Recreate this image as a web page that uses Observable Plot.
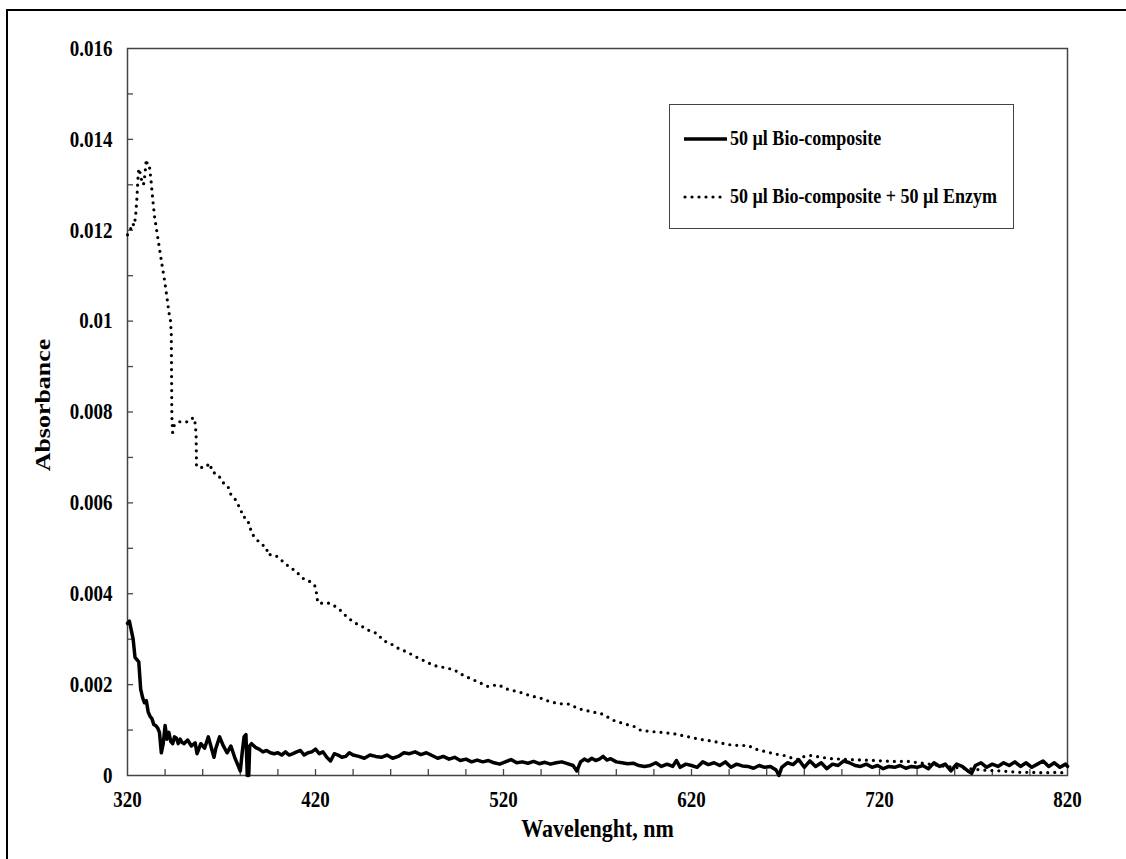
<!DOCTYPE html>
<html>
<head>
<meta charset="utf-8">
<script src="https://cdn.jsdelivr.net/npm/d3@7"></script>
<script src="https://cdn.jsdelivr.net/npm/@observablehq/plot@0.6"></script>
<style>
  html, body { margin: 0; padding: 0; background: #fff; overflow: hidden; }
  #wrap { position: relative; width: 1126px; height: 859px; }
  #outer { position: absolute; left: 6px; top: 9px; width: 1200px; height: 900px;
           border-top: 2px solid #000; border-left: 2px solid #000; pointer-events: none; }
  #legend { position: absolute; left: 669px; top: 104px; width: 345px; height: 125px;
            border: 1.5px solid #444; box-sizing: border-box; background: #fff;
            font-family: "Liberation Serif", "Times New Roman", serif; font-weight: bold; font-size: 18px; color: #000; }
  .item { position: absolute; left: 13px; display: flex; align-items: center; white-space: nowrap; }
  .item svg { margin-right: 2px; }
  .item span { display: inline-block; transform: scaleY(1.2); transform-origin: 0 55%; }
</style>
</head>
<body>
<div id="wrap">
  <div id="chart"></div>
  <div id="outer"></div>
  <div id="legend">
    <div class="item" style="top:23px"><svg width="45" height="14"><line x1="1" y1="7" x2="44" y2="7" stroke="#000" stroke-width="3.4"/></svg><span id="lab0"></span></div>
    <div class="item" style="top:81px"><svg width="45" height="14"><line x1="2" y1="7" x2="44" y2="7" stroke="#000" stroke-width="3.2" stroke-dasharray="0,7" stroke-linecap="round"/></svg><span id="lab1"></span></div>
  </div>
</div>
<script>
// ---- data ----
const seriesNames = ["50 µl Bio-composite", "50 µl Bio-composite + 50 µl Enzym"];

const xTickLabels = ["320", "420", "520", "620", "720", "820"];
const xTickValues = [320, 420, 520, 620, 720, 820];
const yTickLabels = ["0", "0.002", "0.004", "0.006", "0.008", "0.01", "0.012", "0.014", "0.016"];
const yTickValues = [0, 0.002, 0.004, 0.006, 0.008, 0.010, 0.012, 0.014, 0.016];
const xMinorTicks = [340, 360, 380, 400, 420, 440, 460, 480, 500, 520, 540, 560, 580, 600, 620, 640, 660, 680, 700, 720, 740, 760, 780, 800];
const yMinorTicks = [0.001, 0.002, 0.003, 0.004, 0.005, 0.006, 0.007, 0.008, 0.009, 0.010, 0.011, 0.012, 0.013, 0.014, 0.015];

// Series 1: 50 µl Bio-composite (solid)
const bioWavelength = [320,321,322,323,324,325,326,327,328,329,330,331,332,333,334,335,336,337,338,339,340,341,342,343,344,345,346,347,348,349,350,352,354,356,357,359,361,363,364,366,367,369,371,373,375,377,379,380,381,382,383,383.7,384.5,385,386,388,390,392,394,396,398,400,402,404,406,408,410,412,414,416,418,420,422,424,426,428,430,432,434,436,438,440,443,446,449,452,455,458,461,464,467,470,473,476,479,482,485,488,491,494,497,500,503,506,509,512,515,518,521,524,527,530,533,536,539,542,545,548,551,554,557,559,561,563,565,567,569,571,573,575,577,580,583,586,589,592,595,598,601,604,607,610,612,614,617,620,623,626,629,632,635,638,641,644,647,650,653,656,659,662,665,666.5,668,671,674,677,680,683,686,689,692,695,698,701,704,707,710,713,716,719,722,725,728,731,734,737,740,743,746,749,752,755,758,761,764,767,769,771,774,777,780,783,786,789,792,795,798,801,804,807,810,813,816,819,820];
const bioAbsorbance = [0.00335,0.0034,0.0032,0.0030,0.0026,0.00255,0.0025,0.0019,0.00172,0.0016,0.00165,0.0014,0.0013,0.00125,0.00112,0.0011,0.00105,0.00095,0.0005,0.0007,0.0011,0.0008,0.00095,0.00075,0.0007,0.00085,0.00082,0.0007,0.0008,0.00073,0.0007,0.00078,0.00065,0.00072,0.00048,0.0007,0.0006,0.00085,0.0007,0.0004,0.0006,0.00085,0.00065,0.0005,0.00065,0.0004,0.0002,0.0001,0.0005,0.00085,0.0009,0.0,0.0,0.00065,0.0007,0.00062,0.00058,0.00052,0.00055,0.0005,0.00048,0.0005,0.00045,0.00052,0.00045,0.00048,0.00052,0.00055,0.00045,0.0005,0.00052,0.00058,0.00048,0.00052,0.0004,0.00032,0.00048,0.00045,0.0004,0.00042,0.0005,0.00045,0.00042,0.00038,0.00045,0.00042,0.0004,0.00045,0.00038,0.00042,0.0005,0.00048,0.00052,0.00046,0.0005,0.00044,0.00038,0.00042,0.00036,0.0004,0.00033,0.00036,0.0003,0.00034,0.0003,0.00033,0.00028,0.00025,0.0003,0.00035,0.00028,0.0003,0.00027,0.00031,0.00026,0.00029,0.00025,0.00028,0.0003,0.00026,0.00022,0.0001,0.0003,0.00036,0.00032,0.00038,0.00033,0.00036,0.00042,0.00034,0.00037,0.0003,0.00028,0.00026,0.00027,0.00022,0.0002,0.00022,0.00028,0.0002,0.00025,0.0002,0.00033,0.00018,0.00025,0.00022,0.00018,0.0003,0.00024,0.00028,0.00022,0.0003,0.00018,0.00025,0.00021,0.0002,0.00016,0.00022,0.00018,0.0002,0.00012,0.0,0.00018,0.00028,0.00024,0.00035,0.00018,0.00032,0.0002,0.00028,0.00015,0.00025,0.00022,0.00032,0.00028,0.00022,0.0002,0.00025,0.00018,0.00022,0.00015,0.0002,0.00018,0.00022,0.00016,0.0002,0.00018,0.00022,0.00015,0.00028,0.0002,0.00025,0.0001,0.00025,0.0002,0.0001,0.00005,0.00022,0.00028,0.00018,0.00025,0.0002,0.00028,0.00022,0.0003,0.0002,0.00028,0.00018,0.00025,0.00032,0.0002,0.00028,0.00018,0.00025,0.0002];

// Series 2: 50 µl Bio-composite + 50 µl Enzym (dotted)
const enzWavelength = [320,321,322.7,323.5,324.3,325,325.5,326,326.5,327.5,328.5,329.2,330,330.8,331.7,332.5,333.5,334.4,335.7,337,338.3,339.7,341,342,342.9,343.3,343.6,344,344.8,346.6,349,352,355.1,356,356.5,356.7,358.9,361.5,363.7,365.3,366.9,368.5,370.6,373.3,374.8,377,379.1,380.2,381.2,383.4,385,386,388.2,390.8,394,394.5,397.7,400.4,403.1,405.2,406.8,409.5,411.6,414.3,416.9,419.6,420.6,421.2,423.8,426.5,429.7,432.4,436,440.3,444,448,453,456,460,464,469,474,478,483,488,493.6,498,502.6,507,511.7,517,522,529,534,540,545,550,555,560,565,572,578.8,584.1,589.4,593.2,598,603.8,610.7,615,619.8,624,628.9,634.2,639.5,645,650.2,653.3,657,660.8,665,669.3,674.6,677,680,683.7,689,694.3,700,705,711,717.2,722,726.3,735.3,745,755,765,775,785,793.9,800.8,808,815.2,820];
const enzAbsorbance = [0.0119,0.01195,0.01215,0.0121,0.0123,0.0127,0.0131,0.01336,0.0133,0.0131,0.013,0.0132,0.01356,0.0134,0.0134,0.0131,0.01265,0.0123,0.01195,0.0116,0.01125,0.0109,0.01052,0.0102,0.0100,0.0097,0.0079,0.00755,0.0077,0.00777,0.0078,0.00778,0.00788,0.00775,0.0075,0.0068,0.00678,0.00678,0.00687,0.00667,0.00665,0.0066,0.00645,0.00638,0.0062,0.0061,0.00594,0.00588,0.0057,0.00566,0.0055,0.00533,0.00522,0.0051,0.00502,0.00486,0.00486,0.0048,0.00469,0.00462,0.00456,0.00451,0.0044,0.00431,0.00427,0.00418,0.004,0.0038,0.00379,0.0038,0.00374,0.00367,0.00352,0.00337,0.0033,0.0032,0.00312,0.00297,0.0029,0.0028,0.00271,0.0026,0.00252,0.00242,0.00238,0.00233,0.00222,0.00213,0.00205,0.00196,0.002,0.0019,0.00183,0.00176,0.0017,0.00162,0.00158,0.00157,0.00147,0.00142,0.00136,0.00121,0.00114,0.00108,0.00099,0.00097,0.00095,0.00092,0.00088,0.00084,0.0008,0.00077,0.00073,0.00068,0.00066,0.00066,0.00059,0.00055,0.00051,0.00047,0.00044,0.00037,0.00035,0.00042,0.00044,0.0004,0.00037,0.00036,0.00035,0.00034,0.00033,0.00032,0.00031,0.00031,0.00026,0.0002,0.00016,0.00012,0.0001,0.00007,0.00007,0.00006,0.00007,0.00005];

const bio = bioWavelength.map((w, i) => ({w, a: bioAbsorbance[i]}));
const enz = enzWavelength.map((w, i) => ({w, a: enzAbsorbance[i]}));

document.getElementById("lab0").textContent = seriesNames[0];
document.getElementById("lab1").textContent = seriesNames[1];

const W = 1126, H = 859, mL = 127, mR = 59, mT = 48, mB = 84;
const pw = W - mL - mR, ph = H - mT - mB;
const font = '"Liberation Serif", "Times New Roman", serif';

const chart = Plot.plot({
  width: W, height: H,
  marginLeft: mL, marginRight: mR, marginTop: mT, marginBottom: mB,
  style: {fontFamily: font, fontWeight: "bold", fontSize: "19px", color: "#000", background: "transparent", overflow: "visible"},
  x: {domain: [320, 820]},
  y: {domain: [0, 0.016]},
  marks: [
    Plot.frame({stroke: "#444", strokeWidth: 1.5}),
    Plot.tickY(yMinorTicks, {y: d => d, insetRight: pw - 6, stroke: "#444", strokeWidth: 1.3}),
    Plot.tickX(xMinorTicks, {x: d => d, insetTop: ph - 6, stroke: "#444", strokeWidth: 1.3}),
    Plot.axisY(yTickValues, {tickSize: 0, tickPadding: 15, tickFormat: (d, i) => yTickLabels[i], label: null, fontSize: 19}),
    Plot.axisX(xTickValues, {tickSize: 0, tickPadding: 17, tickFormat: (d, i) => xTickLabels[i], label: null, fontSize: 19}),
    Plot.text(["Absorbance"], {frameAnchor: "left", textAnchor: "middle", dx: -85, dy: -7, rotate: -90, fontSize: 22, fontWeight: "bold"}),
    Plot.text(["Wavelenght, nm"], {frameAnchor: "bottom", dy: 60, fontSize: 22, fontWeight: "bold"}),
    Plot.line(enz, {x: "w", y: "a", stroke: "#000", strokeWidth: 3.2, strokeDasharray: "0,7", strokeLinecap: "round"}),
    Plot.line(bio, {x: "w", y: "a", stroke: "#000", strokeWidth: 3.5, strokeLinejoin: "round"})
  ]
});
document.getElementById("chart").appendChild(chart);

// Stretch glyphs vertically (the reference type is tall and narrow): wrap each text in a scaled group
const STRETCH = 1.18;
Array.from(chart.querySelectorAll("text")).forEach(t => {
  const parent = t.parentNode;
  const r = t.getBoundingClientRect();
  const ctm = parent.getScreenCTM();
  if (!ctm || r.width === 0) return;
  const p = new DOMPoint(r.x + r.width / 2, r.y + r.height / 2).matrixTransform(ctm.inverse());
  const g = document.createElementNS("http://www.w3.org/2000/svg", "g");
  g.setAttribute("transform", `translate(${p.x},${p.y}) scale(1,${STRETCH}) translate(${-p.x},${-p.y})`);
  parent.insertBefore(g, t);
  g.appendChild(t);
});
</script>
</body>
</html>
